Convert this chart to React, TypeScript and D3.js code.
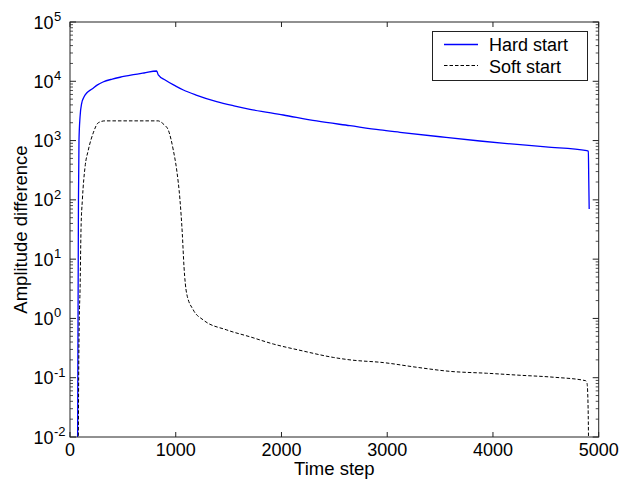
import React from "react";
import * as d3 from "d3";

const hardT = [66, 72, 74, 76, 78, 80, 85, 95, 111, 132, 160, 208, 260, 312, 400, 473, 600, 700, 820, 835, 900, 1000, 1072, 1200, 1387, 1550, 1702, 2017, 2333, 2648, 2932, 3121, 3500, 3877, 4200, 4500, 4887, 4902, 4906, 4910];
const hardV = [0.001, 0.01, 0.1, 1, 10, 100, 1000, 2500, 4300, 5430, 6400, 7400, 8700, 9730, 10900, 11700, 12900, 13800, 14900, 12800, 10500, 8300, 7130, 5800, 4530, 3850, 3370, 2700, 2140, 1780, 1510, 1380, 1160, 984, 870, 780, 675, 660, 216, 70];

const softT = [76, 79, 82, 88, 95, 104, 117, 142, 173, 220, 268, 331, 450, 600, 835, 851, 890, 930, 977, 1009, 1040, 1062, 1078, 1103, 1166, 1261, 1482, 1702, 1923, 2175, 2490, 2648, 2963, 3279, 3594, 3940, 4256, 4571, 4877, 4890, 4900, 4908];
const softV = [0.001, 0.01, 0.1, 1, 3, 31, 100, 355, 690, 1350, 2000, 2150, 2150, 2150, 2150, 2100, 1850, 1500, 690, 319, 100, 27, 7.5, 2.65, 1.39, 0.94, 0.64, 0.49, 0.37, 0.29, 0.22, 0.2, 0.18, 0.15, 0.128, 0.119, 0.11, 0.102, 0.089, 0.08, 0.03, 0.001];

const xTicks = [0, 1000, 2000, 3000, 4000, 5000];
const yExps = [-2, -1, 0, 1, 2, 3, 4, 5];
const seriesNames = ["Hard start", "Soft start"];

const W = 620;
const H = 483;
const L = 70;
const R = 598.7;
const T = 22;
const B = 437;
const FONT = "'Liberation Sans', Arial, sans-serif";
const AXC = "#222";

export default function App() {
  const x = d3.scaleLinear().domain([0, 5000]).range([L, R]);
  const y = d3.scaleLog().domain([1e-2, 1e5]).range([B, T]);

  const line = d3
    .line<[number, number]>()
    .x((d) => x(d[0]))
    .y((d) => y(d[1]))
    .curve(d3.curveMonotoneX);

  const hard = hardT.map((t, i) => [t, hardV[i]] as [number, number]);
  const soft = softT.map((t, i) => [t, softV[i]] as [number, number]);

  const minor: number[] = [];
  for (let e = -2; e < 5; e++) {
    for (let k = 2; k <= 9; k++) minor.push(k * Math.pow(10, e));
  }

  return (
    <svg
      width={W}
      height={H}
      style={{ position: "absolute", left: 0, top: 0, background: "#fff" }}
      fontFamily={FONT}
    >
      <rect x={0} y={0} width={W} height={H} fill="#fff" />
      <defs>
        <clipPath id="plotclip">
          <rect x={L} y={T} width={R - L} height={B - T} />
        </clipPath>
      </defs>

      <g clipPath="url(#plotclip)" fill="none">
        <path d={line(hard) || ""} stroke="#0000ff" strokeWidth={1.3} />
        <path d={line(soft) || ""} stroke="#000" strokeWidth={1} strokeDasharray="3.5,2" />
      </g>

      {/* axes box */}
      <rect x={L} y={T} width={R - L} height={B - T} fill="none" stroke={AXC} strokeWidth={1} />

      {/* x ticks */}
      {xTicks.map((t) => (
        <g key={"xt" + t}>
          <line x1={x(t)} x2={x(t)} y1={B} y2={B - 5} stroke={AXC} />
          <line x1={x(t)} x2={x(t)} y1={T} y2={T + 5} stroke={AXC} />
          <text x={x(t)} y={456} fontSize={18} textAnchor="middle" fill="#000">
            {t}
          </text>
        </g>
      ))}

      {/* y major ticks */}
      {yExps.map((e) => {
        const yy = y(Math.pow(10, e));
        return (
          <g key={"ye" + e}>
            <line x1={L} x2={L + 6} y1={yy} y2={yy} stroke={AXC} />
            <line x1={R} x2={R - 6} y1={yy} y2={yy} stroke={AXC} />
            <text x={53.5} y={yy + 6.5} fontSize={18} textAnchor="end" fill="#000">
              10
            </text>
            <text x={54} y={yy - 1} fontSize={13} textAnchor="start" fill="#000">
              {e < 0 ? "-" + Math.abs(e) : String(e)}
            </text>
          </g>
        );
      })}

      {/* y minor ticks */}
      {minor.map((v, i) => (
        <g key={"ym" + i}>
          <line x1={L} x2={L + 3} y1={y(v)} y2={y(v)} stroke={AXC} strokeWidth={0.8} />
          <line x1={R} x2={R - 3} y1={y(v)} y2={y(v)} stroke={AXC} strokeWidth={0.8} />
        </g>
      ))}

      {/* axis labels */}
      <text x={(L + R) / 2} y={475} fontSize={18.5} textAnchor="middle" fill="#000">
        Time step
      </text>
      <text
        transform={`translate(27,${(T + B) / 2}) rotate(-90)`}
        fontSize={18.5}
        textAnchor="middle"
        fill="#000"
      >
        Amplitude difference
      </text>

      {/* legend */}
      <rect x={432.5} y={31.5} width={155} height={49} fill="#fff" stroke={AXC} strokeWidth={1} />
      <line x1={444} x2={478} y1={44.5} y2={44.5} stroke="#0000ff" strokeWidth={1.3} />
      <line x1={444} x2={478} y1={65.5} y2={65.5} stroke="#000" strokeWidth={1} strokeDasharray="3.5,2" />
      <text x={489} y={51} fontSize={18} fill="#000">
        {seriesNames[0]}
      </text>
      <text x={489} y={72.5} fontSize={18} fill="#000">
        {seriesNames[1]}
      </text>
    </svg>
  );
}
